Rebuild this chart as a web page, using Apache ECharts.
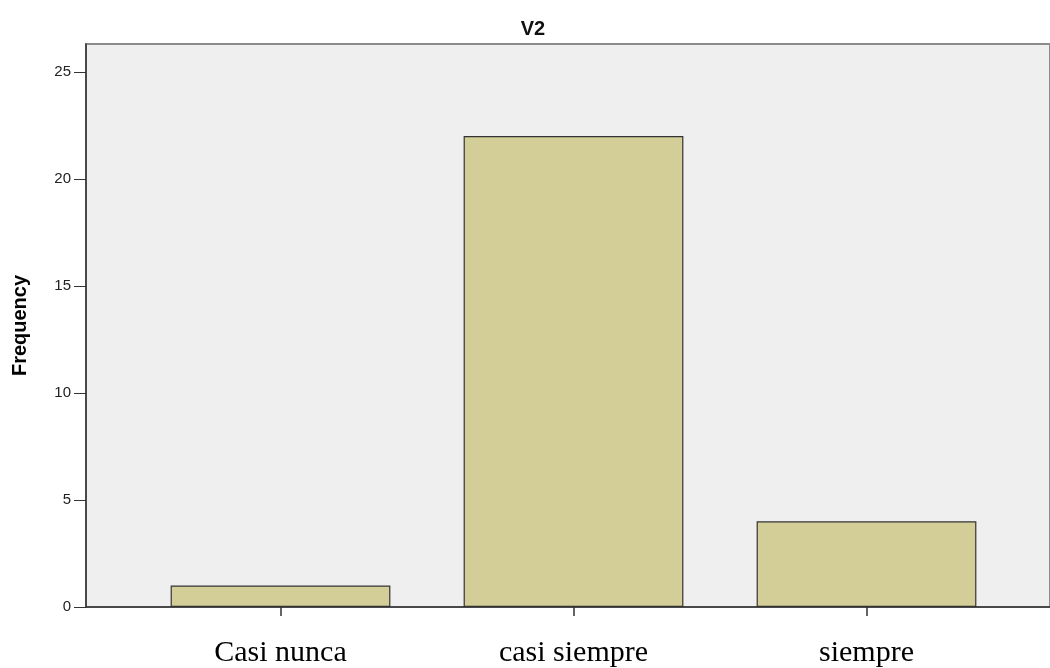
<!DOCTYPE html>
<html>
<head>
<meta charset="utf-8">
<script src="https://cdn.jsdelivr.net/npm/echarts@6/dist/echarts.min.js"></script>
<style>html,body{margin:0;padding:0;background:#fff}#c{width:1050px;height:668px}</style>
</head>
<body>
<div id="c"></div>
<script>
const categories = ['Casi nunca', 'casi siempre', 'siempre'];
const frequency = [1, 22, 4];
const yTicks = [0, 5, 10, 15, 20, 25];

const chart = echarts.init(document.getElementById('c'), null, {renderer: 'canvas'});
const yMax = 26.3;
chart.setOption({
  animation: false,
  title: {
    text: 'V2', left: 528, top: 14, textAlign: 'center',
    textStyle: {fontFamily: 'Liberation Sans', fontWeight: 'bold', fontSize: 20, color: '#111'}
  },
  grid: [
    {left: 86, right: 0, top: 44, bottom: 61, show: true, backgroundColor: '#efefef', borderColor: '#8c8c8c', borderWidth: 2,
     containLabel: false, outerBoundsMode: 'none'},
    {left: 134, right: 37, top: 44, bottom: 61, containLabel: false, outerBoundsMode: 'none'}
  ],
  xAxis: [
    {gridIndex: 0, type: 'value', min: 0, max: 1, axisLine: {show: true, lineStyle: {color: '#333', width: 1.5}},
     axisTick: {show: false}, axisLabel: {show: false}, splitLine: {show: false}},
    {gridIndex: 1, type: 'category', data: categories, boundaryGap: true,
     axisLine: {show: false},
     axisTick: {show: true, alignWithLabel: true, length: 9, lineStyle: {color: '#333', width: 1.5}},
     axisLabel: {margin: 31, fontFamily: 'Liberation Serif', fontSize: 30, color: '#000'}}
  ],
  yAxis: [
    {gridIndex: 0, type: 'value', min: 0, max: yMax, interval: 5,
     name: 'Frequency', nameLocation: 'middle', nameGap: 56, nameRotate: 90,
     nameTextStyle: {fontFamily: 'Liberation Sans', fontWeight: 'bold', fontSize: 20, color: '#000'},
     axisLine: {show: true, lineStyle: {color: '#333', width: 1.5}},
     axisTick: {show: true, length: 12, customValues: yTicks, lineStyle: {color: '#333'}},
     axisLabel: {margin: 15, fontFamily: 'Liberation Sans', fontSize: 15, color: '#222', customValues: yTicks},
     splitLine: {show: false}},
    {gridIndex: 1, type: 'value', min: 0, max: yMax, show: false, splitLine: {show: false}}
  ],
  series: [{
    type: 'bar', xAxisIndex: 1, yAxisIndex: 1, data: frequency, barWidth: '75%',
    itemStyle: {color: '#d3cd97', borderColor: '#333', borderWidth: 1.2}
  }]
});
</script>
</body>
</html>
